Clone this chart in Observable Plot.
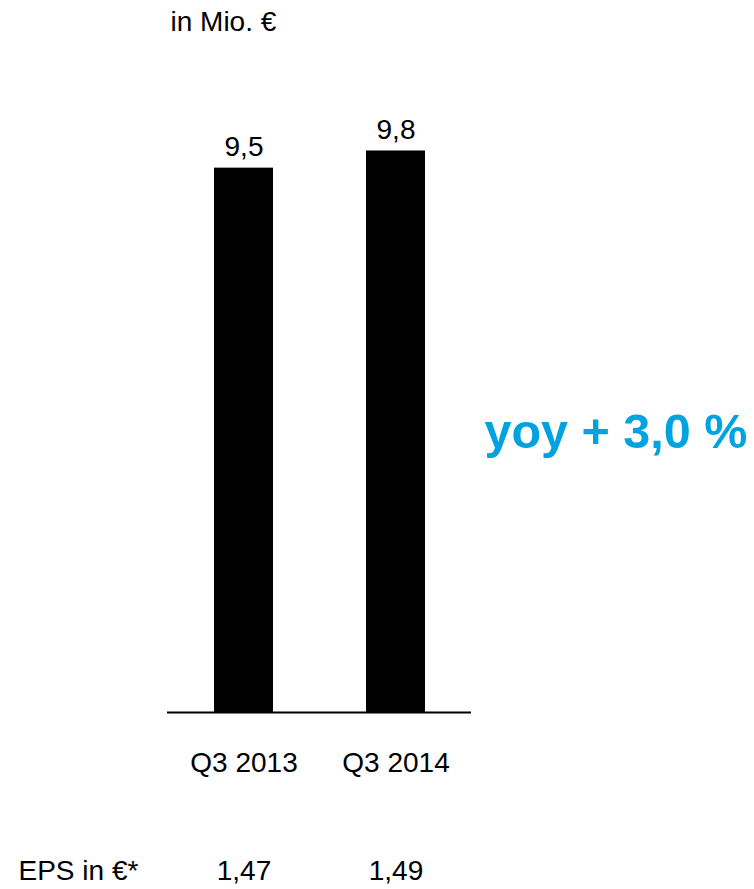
<!DOCTYPE html>
<html>
<head>
<meta charset="utf-8">
<script src="https://cdn.jsdelivr.net/npm/d3@7"></script>
<script src="https://cdn.jsdelivr.net/npm/@observablehq/plot@0.6"></script>
<style>
  html, body { margin: 0; padding: 0; background: #fff; }
  #chart svg { display: block; }
</style>
</head>
<body>
<div id="chart"></div>
<script>
const categories = ["Q3 2013", "Q3 2014"];
const values = [9.5, 9.8];
const valueLabels = ["9,5", "9,8"];
const epsLabels = ["1,47", "1,49"];
const unitLabel = "in Mio. €";
const epsTitle = "EPS in €*";
const yoyLabel = "yoy + 3,0 %";

const data = categories.map((c, i) => ({cat: c, value: values[i], label: valueLabels[i], eps: epsLabels[i]}));

const font = "'Liberation Sans', Arial, sans-serif";

const chart = Plot.plot({
  width: 754,
  height: 889,
  marginLeft: 167,
  marginRight: 283,
  marginTop: 139,
  marginBottom: 177,
  style: {fontFamily: font, background: "#fff"},
  x: {domain: categories, paddingInner: 0.6126, paddingOuter: 0.304, axis: null},
  y: {domain: [0, 10], axis: null},
  marks: [
    Plot.barY(data, {x: "cat", y: "value", fill: "#000"}),
    Plot.ruleY([0], {stroke: "#000", strokeWidth: 2}),
    Plot.text(data, {x: "cat", y: "value", text: "label", lineAnchor: "bottom", dy: -12, fontSize: 28, fill: "#000"}),
    Plot.text(data, {x: "cat", y: () => 0, text: "cat", lineAnchor: "bottom", dy: 59, fontSize: 28, fill: "#000"}),
    Plot.text(data, {x: "cat", y: () => 0, text: "eps", lineAnchor: "bottom", dy: 167, fontSize: 28, fill: "#000"}),
    Plot.text([epsTitle], {frameAnchor: "bottom-left", text: d => d, textAnchor: "start", lineAnchor: "bottom", dx: -149, dy: 167, fontSize: 28, fill: "#000"}),
    Plot.text([unitLabel], {frameAnchor: "top-left", text: d => d, textAnchor: "start", lineAnchor: "bottom", dx: 3, dy: -109, fontSize: 28, fill: "#000"}),
    Plot.text([yoyLabel], {frameAnchor: "top-left", text: d => d, textAnchor: "start", lineAnchor: "bottom", dx: 317, dy: 308, fontSize: 48.5, fontWeight: "bold", fill: "#00a3e0"})
  ]
});
document.getElementById("chart").appendChild(chart);
</script>
</body>
</html>
